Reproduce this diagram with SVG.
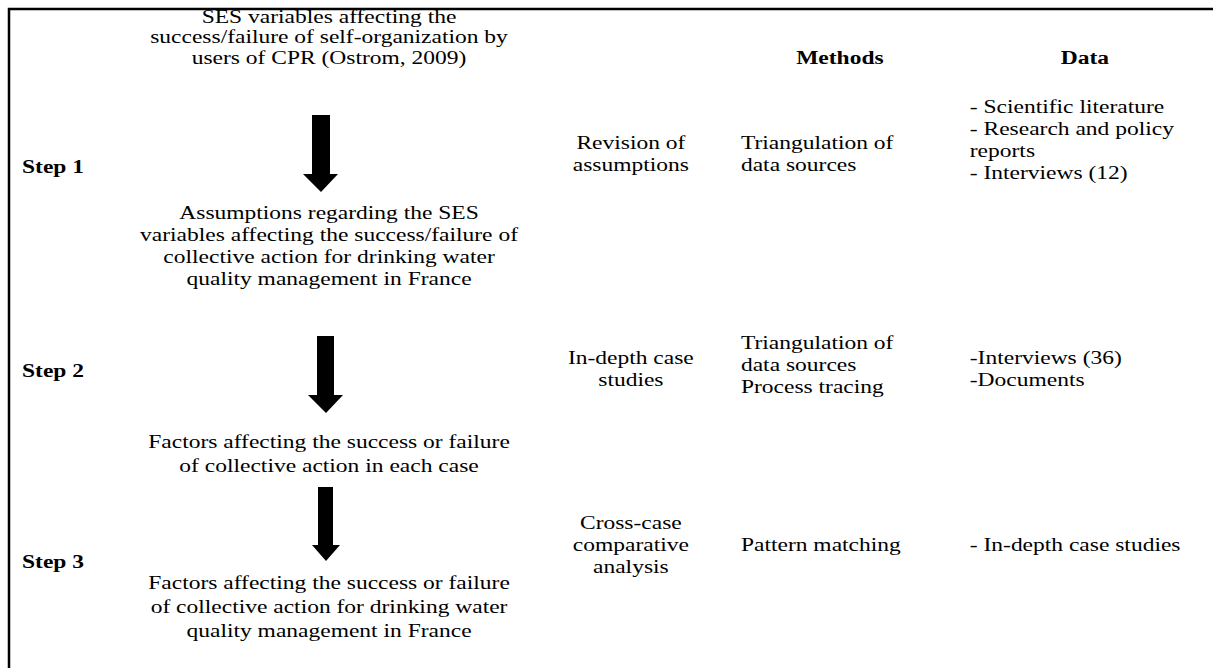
<svg xmlns="http://www.w3.org/2000/svg" width="1213" height="668" viewBox="0 0 1213 668">
<style>
text{font-family:"Liberation Serif",Tinos,"DejaVu Serif","Noto Serif",serif;font-size:19px;fill:#000}
.b{font-weight:bold}
.c{text-anchor:middle}
.frame{stroke:#000;stroke-width:2.5;fill:none}
.arrow{fill:#000}
</style>
<rect width="1213" height="668" fill="#fff"/>
<path class="frame" d="M9,668 V9 H1213"/>
<g id="connectors">
<path class="arrow" d="M312,115 H330 V174 H338 L321,192 L303,174 H312 Z"/>
<path class="arrow" d="M317,336 H334 V395 H343 L326,413 L308,395 H317 Z"/>
<path class="arrow" d="M318,487 H333 V545 H340 L326,561 L312,545 H318 Z"/>
</g>
<g transform="scale(1.237 1)">
<g id="steps">
<text class="b" x="17.8" y="173">Step 1</text>
<text class="b" x="17.8" y="377">Step 2</text>
<text class="b" x="17.8" y="568">Step 3</text>
</g>
<g id="n1">
<text class="c" x="266" y="23">SES variables affecting the</text>
<text class="c" x="266" y="43.5">success/failure of self-organization by</text>
<text class="c" x="266" y="64">users of CPR (Ostrom, 2009)</text>
</g>
<g id="n2">
<text class="c" x="266" y="219">Assumptions regarding the SES</text>
<text class="c" x="266" y="241">variables affecting the success/failure of</text>
<text class="c" x="266" y="263">collective action for drinking water</text>
<text class="c" x="266" y="285">quality management in France</text>
</g>
<g id="n3">
<text class="c" x="266" y="448">Factors affecting the success or failure</text>
<text class="c" x="266" y="472">of collective action in each case</text>
</g>
<g id="n4">
<text class="c" x="266" y="589">Factors affecting the success or failure</text>
<text class="c" x="266" y="613">of collective action for drinking water</text>
<text class="c" x="266" y="637">quality management in France</text>
</g>
<g id="headers">
<text class="b c" x="679" y="64.5">Methods</text>
<text class="b c" x="877" y="64.5">Data</text>
</g>
<g id="row1">
<text class="c" x="510" y="149">Revision of</text>
<text class="c" x="510" y="171">assumptions</text>
<text x="599" y="149">Triangulation of</text>
<text x="599" y="171">data sources</text>
<text x="784" y="113">- Scientific literature</text>
<text x="784" y="135">- Research and policy</text>
<text x="784" y="157">reports</text>
<text x="784" y="179">- Interviews (12)</text>
</g>
<g id="row2">
<text class="c" x="510" y="364">In-depth case</text>
<text class="c" x="510" y="386">studies</text>
<text x="599" y="349">Triangulation of</text>
<text x="599" y="371">data sources</text>
<text x="599" y="393">Process tracing</text>
<text x="784" y="364">-Interviews (36)</text>
<text x="784" y="386">-Documents</text>
</g>
<g id="row3">
<text class="c" x="510" y="529">Cross-case</text>
<text class="c" x="510" y="551">comparative</text>
<text class="c" x="510" y="573">analysis</text>
<text x="599" y="551">Pattern matching</text>
<text x="784" y="551">- In-depth case studies</text>
</g>
</g>
</svg>
